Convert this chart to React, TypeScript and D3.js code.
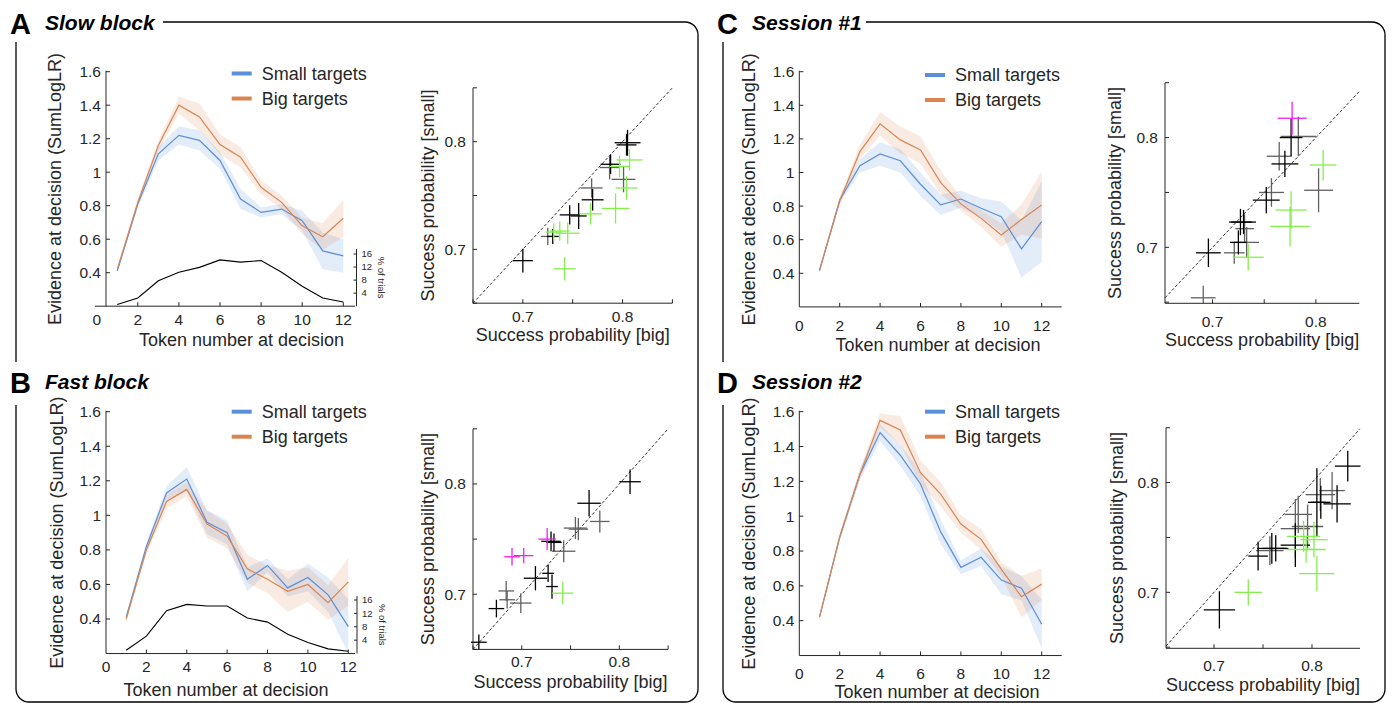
import React from "react";
import * as d3 from "d3";

// ---------- data ----------
const tokens = [1, 2, 3, 4, 5, 6, 7, 8, 9, 10, 11, 12];
const evidenceTicks = [0.4, 0.6, 0.8, 1, 1.2, 1.4, 1.6];
const tokenTicks = [0, 2, 4, 6, 8, 10, 12];
const trialTicks = [4, 8, 12, 16];
const probLabelTicks = [0.7, 0.8];
const probMarkTicks = [0.65, 0.7, 0.75, 0.8, 0.85];

// A: slow block
const slowSmall = [0.41, 0.81, 1.11, 1.22, 1.19, 1.07, 0.84, 0.76, 0.78, 0.71, 0.53, 0.5];
const slowSmallErr = [0.01, 0.02, 0.04, 0.055, 0.06, 0.05, 0.06, 0.03, 0.03, 0.06, 0.11, 0.1];
const slowBig = [0.42, 0.82, 1.16, 1.4, 1.33, 1.165, 1.09, 0.91, 0.82, 0.68, 0.615, 0.725];
const slowBigErr = [0.01, 0.02, 0.03, 0.05, 0.08, 0.06, 0.06, 0.04, 0.04, 0.05, 0.08, 0.11];
const slowTrials = [0.5, 2.5, 7.8, 10.4, 11.9, 14.2, 13.5, 14.0, 10.4, 6.1, 2.5, 1.3];

// B: fast block
const fastSmall = [0.41, 0.82, 1.13, 1.21, 0.96, 0.9, 0.63, 0.71, 0.58, 0.64, 0.54, 0.356];
const fastSmallErr = [0.01, 0.02, 0.04, 0.07, 0.07, 0.07, 0.07, 0.04, 0.05, 0.08, 0.1, 0.16];
const fastBig = [0.4, 0.8, 1.08, 1.15, 0.95, 0.88, 0.69, 0.63, 0.56, 0.6, 0.495, 0.615];
const fastBigErr = [0.02, 0.02, 0.04, 0.04, 0.08, 0.07, 0.08, 0.08, 0.12, 0.1, 0.1, 0.14];
const fastTrials = [1.0, 5.2, 12.8, 14.7, 14.2, 14.2, 10.6, 9.4, 5.8, 3.3, 1.4, 0.7];

// C: session 1
const s1Small = [0.415, 0.835, 1.04, 1.11, 1.07, 0.93, 0.807, 0.842, 0.787, 0.737, 0.545, 0.708];
const s1SmallErr = [0.01, 0.02, 0.04, 0.07, 0.07, 0.07, 0.06, 0.05, 0.06, 0.09, 0.17, 0.24];
const s1Big = [0.42, 0.83, 1.124, 1.29, 1.194, 1.134, 0.94, 0.813, 0.727, 0.628, 0.72, 0.807];
const s1BigErr = [0.01, 0.02, 0.04, 0.07, 0.08, 0.08, 0.07, 0.04, 0.05, 0.07, 0.09, 0.2];

// D: session 2
const s2Small = [0.42, 0.88, 1.24, 1.48, 1.35, 1.185, 0.91, 0.706, 0.764, 0.633, 0.586, 0.38];
const s2SmallErr = [0.01, 0.02, 0.03, 0.05, 0.06, 0.07, 0.07, 0.04, 0.05, 0.08, 0.07, 0.14];
const s2Big = [0.42, 0.88, 1.24, 1.55, 1.495, 1.25, 1.127, 0.955, 0.867, 0.695, 0.538, 0.61];
const s2BigErr = [0.01, 0.02, 0.03, 0.04, 0.08, 0.07, 0.07, 0.05, 0.06, 0.04, 0.12, 0.09];

// scatter: [big, small, bigErr, smallErr, kind]  k=black d=gray g=green m=magenta
type Pt = [number, number, number, number, string];
const slowScatter: Pt[] = [
  [0.725, 0.712, 0.007, 0.008, "d"],
  [0.769, 0.757, 0.011, 0.009, "d"],
  [0.787, 0.776, 0.01, 0.011, "d"],
  [0.801, 0.765, 0.012, 0.012, "d"],
  [0.7, 0.6895, 0.01, 0.011, "k"],
  [0.73, 0.712, 0.006, 0.007, "k"],
  [0.747, 0.732, 0.01, 0.009, "k"],
  [0.756, 0.731, 0.008, 0.012, "k"],
  [0.77, 0.746, 0.011, 0.01, "k"],
  [0.788, 0.779, 0.01, 0.009, "k"],
  [0.805, 0.799, 0.013, 0.012, "k"],
  [0.804, 0.797, 0.01, 0.01, "k"],
  [0.742, 0.682, 0.011, 0.011, "g"],
  [0.731, 0.716, 0.008, 0.008, "g"],
  [0.737, 0.717, 0.01, 0.009, "g"],
  [0.745, 0.715, 0.012, 0.01, "g"],
  [0.768, 0.733, 0.011, 0.01, "g"],
  [0.793, 0.738, 0.014, 0.014, "g"],
  [0.804, 0.757, 0.011, 0.011, "g"],
  [0.807, 0.783, 0.013, 0.01, "g"],
  [0.797, 0.777, 0.01, 0.01, "g"],
];
const fastScatter: Pt[] = [
  [0.684, 0.703, 0.008, 0.009, "d"],
  [0.685, 0.695, 0.008, 0.008, "d"],
  [0.699, 0.692, 0.011, 0.009, "d"],
  [0.743, 0.739, 0.012, 0.01, "d"],
  [0.755, 0.76, 0.012, 0.01, "d"],
  [0.758, 0.759, 0.01, 0.01, "d"],
  [0.78, 0.766, 0.01, 0.01, "d"],
  [0.656, 0.6565, 0.008, 0.007, "k"],
  [0.674, 0.687, 0.008, 0.008, "k"],
  [0.714, 0.7145, 0.012, 0.011, "k"],
  [0.727, 0.719, 0.006, 0.008, "k"],
  [0.731, 0.707, 0.006, 0.011, "k"],
  [0.73, 0.748, 0.01, 0.009, "k"],
  [0.733, 0.747, 0.008, 0.008, "k"],
  [0.769, 0.7825, 0.012, 0.012, "k"],
  [0.811, 0.802, 0.011, 0.011, "k"],
  [0.69, 0.734, 0.008, 0.008, "m"],
  [0.702, 0.735, 0.01, 0.007, "m"],
  [0.726, 0.75, 0.009, 0.01, "m"],
  [0.742, 0.701, 0.011, 0.01, "g"],
];
const s1Scatter: Pt[] = [
  [0.691, 0.654, 0.012, 0.011, "d"],
  [0.721, 0.695, 0.01, 0.01, "d"],
  [0.733, 0.7045, 0.012, 0.014, "d"],
  [0.731, 0.717, 0.009, 0.013, "d"],
  [0.757, 0.75, 0.012, 0.013, "d"],
  [0.7645, 0.783, 0.012, 0.013, "d"],
  [0.783, 0.801, 0.017, 0.018, "d"],
  [0.8026, 0.752, 0.014, 0.02, "d"],
  [0.696, 0.695, 0.012, 0.013, "k"],
  [0.725, 0.7045, 0.008, 0.011, "k"],
  [0.727, 0.723, 0.011, 0.012, "k"],
  [0.73, 0.723, 0.012, 0.011, "k"],
  [0.752, 0.743, 0.013, 0.012, "k"],
  [0.77, 0.776, 0.013, 0.012, "k"],
  [0.776, 0.8, 0.011, 0.017, "k"],
  [0.7345, 0.691, 0.015, 0.012, "g"],
  [0.807, 0.775, 0.013, 0.014, "g"],
  [0.776, 0.734, 0.015, 0.017, "g"],
  [0.775, 0.719, 0.019, 0.018, "g"],
  [0.777, 0.8176, 0.014, 0.015, "m"],
];
const s2Scatter: Pt[] = [
  [0.757, 0.738, 0.014, 0.013, "d"],
  [0.783, 0.758, 0.015, 0.027, "d"],
  [0.786, 0.771, 0.014, 0.017, "d"],
  [0.7955, 0.76, 0.016, 0.02, "d"],
  [0.8085, 0.789, 0.015, 0.015, "d"],
  [0.8205, 0.7927, 0.013, 0.017, "d"],
  [0.7055, 0.684, 0.016, 0.017, "k"],
  [0.745, 0.733, 0.01, 0.013, "k"],
  [0.759, 0.74, 0.015, 0.014, "k"],
  [0.763, 0.74, 0.013, 0.012, "k"],
  [0.783, 0.743, 0.015, 0.02, "k"],
  [0.805, 0.782, 0.009, 0.031, "k"],
  [0.809, 0.782, 0.01, 0.015, "k"],
  [0.8256, 0.7806, 0.014, 0.017, "k"],
  [0.8365, 0.815, 0.013, 0.014, "k"],
  [0.735, 0.7, 0.014, 0.012, "g"],
  [0.7915, 0.751, 0.017, 0.014, "g"],
  [0.802, 0.748, 0.014, 0.016, "g"],
  [0.794, 0.739, 0.02, 0.012, "g"],
  [0.805, 0.717, 0.018, 0.016, "g"],
];

// ---------- styles ----------
const FONT = "'Liberation Sans', Arial, Helvetica, sans-serif";
const HEAD = "'Liberation Sans Narrow', 'Liberation Sans', Arial, sans-serif";
const AX = "#262626";
const BLUE = "#5b8fd9";
const ORANGE = "#da8551";
const KIND: Record<string, string> = { k: "#000000", d: "#606060", g: "#84f04c", m: "#f021f0" };

type LCfg = {
  x0: number; x12: number; xAxisFrom: number; xAxisTo: number; yAxisX: number;
  y04: number; y16: number; tickDy: number; xLabelY: number; xLabelX: number; yLabelX: number;
  legX: number; legY: number; pAxisX?: number; p16?: number; pTop?: number;
};

function LineChart({ c, small, smallErr, big, bigErr, trials }: any) {
  const cfg = c as LCfg;
  const x = d3.scaleLinear().domain([0, 12]).range([cfg.x0, cfg.x12]);
  const y = d3.scaleLinear().domain([0.4, 1.6]).range([cfg.y04, cfg.y16]);
  const yB = y(0.2);
  const line = d3.line<number>().x((_, i) => x(tokens[i])).y((d) => y(d));
  const band = (m: number[], e: number[]) =>
    d3.area<number>()
      .x((_, i) => x(tokens[i]))
      .y0((_, i) => y(Math.max(0.2, m[i] - e[i])))
      .y1((_, i) => y(m[i] + e[i]))(m) || "";
  const yMid = (y(1.6) + yB) / 2;
  let trialEls: any = null;
  if (trials && cfg.pAxisX) {
    const p = d3.scaleLinear().domain([0, 16]).range([yB, cfg.p16!]);
    const tl = d3.line<number>().x((_, i) => x(tokens[i])).y((d) => p(d));
    trialEls = (
      <g>
        <path d={tl(trials) || ""} fill="none" stroke="#000" strokeWidth={1.1} />
        <line x1={cfg.pAxisX} x2={cfg.pAxisX} y1={yB} y2={cfg.pTop} stroke={AX} strokeWidth={1} />
        {trialTicks.map((t) => (
          <g key={t}>
            <line x1={cfg.pAxisX! - 3} x2={cfg.pAxisX} y1={p(t)} y2={p(t)} stroke={AX} />
            <text x={cfg.pAxisX! + 5} y={p(t)} dy="0.35em" fontSize={9.5} fill={AX} fontFamily={FONT}>{t}</text>
          </g>
        ))}
        <text transform={`translate(${cfg.pAxisX! + 25},${(yB + cfg.pTop!) / 2}) rotate(90)`} textAnchor="middle" dy="0.35em" fontSize={9.5} fill={AX} fontFamily={FONT}>% of trials</text>
      </g>
    );
  }
  return (
    <g fontFamily={FONT}>
      <path d={band(small, smallErr)} fill={BLUE} fillOpacity={0.17} />
      <path d={band(big, bigErr)} fill={ORANGE} fillOpacity={0.17} />
      <path d={line(small) || ""} fill="none" stroke={BLUE} strokeWidth={1.2} />
      <path d={line(big) || ""} fill="none" stroke={ORANGE} strokeWidth={1.2} />
      {trialEls}
      <line x1={cfg.yAxisX} x2={cfg.yAxisX} y1={yB} y2={y(1.6) - 1} stroke={AX} strokeWidth={1} />
      <line x1={cfg.xAxisFrom} x2={cfg.xAxisTo} y1={yB} y2={yB} stroke={AX} strokeWidth={1} />
      {evidenceTicks.map((t) => (
        <g key={t}>
          <line x1={cfg.yAxisX} x2={cfg.yAxisX + 4} y1={y(t)} y2={y(t)} stroke={AX} />
          <text x={cfg.yAxisX - 5} y={y(t)} dy="0.35em" textAnchor="end" fontSize={15.5} fill={AX}>{t}</text>
        </g>
      ))}
      {tokenTicks.map((t) => (
        <g key={t}>
          {t > 0 && <line x1={x(t)} x2={x(t)} y1={yB} y2={yB - 4} stroke={AX} />}
          <text x={x(t)} y={yB + cfg.tickDy} dy="0.35em" textAnchor="middle" fontSize={15.5} fill={AX}>{t}</text>
        </g>
      ))}
      <text x={cfg.xLabelX} y={cfg.xLabelY} dy="0.35em" textAnchor="middle" fontSize={18} fill={AX}>Token number at decision</text>
      <text transform={`translate(${cfg.yLabelX},${yMid}) rotate(-90)`} textAnchor="middle" dy="0.35em" fontSize={18} fill={AX}>Evidence at decision (SumLogLR)</text>
      <line x1={cfg.legX} x2={cfg.legX + 20} y1={cfg.legY} y2={cfg.legY} stroke={BLUE} strokeWidth={4} />
      <text x={cfg.legX + 30} y={cfg.legY} dy="0.35em" fontSize={18} fill={AX}>Small targets</text>
      <line x1={cfg.legX} x2={cfg.legX + 20} y1={cfg.legY + 25} y2={cfg.legY + 25} stroke={ORANGE} strokeWidth={4} />
      <text x={cfg.legX + 30} y={cfg.legY + 25} dy="0.35em" fontSize={18} fill={AX}>Big targets</text>
    </g>
  );
}

type SCfg = { xd: [number, number]; yd: [number, number]; xr: [number, number]; yr: [number, number]; tickDy: number; yLabelX: number; xLabelY: number };

function Scatter({ c, pts }: { c: SCfg; pts: Pt[] }) {
  const x = d3.scaleLinear().domain(c.xd).range(c.xr);
  const y = d3.scaleLinear().domain(c.yd).range(c.yr);
  const [x0, x1] = c.xr;
  const [y0, y1] = c.yr;
  const dLo = Math.max(c.xd[0], c.yd[0]);
  const dHi = Math.min(c.xd[1], c.yd[1]);
  return (
    <g fontFamily={FONT}>
      <line x1={x(dLo)} y1={y(dLo)} x2={x(dHi)} y2={y(dHi)} stroke="#333" strokeWidth={1} strokeDasharray="3,2" />
      {pts.map((p, i) => (
        <g key={i} stroke={KIND[p[4]]} strokeWidth={1.3}>
          <line x1={x(p[0] - p[2])} x2={x(p[0] + p[2])} y1={y(p[1])} y2={y(p[1])} />
          <line x1={x(p[0])} x2={x(p[0])} y1={Math.min(y0, y(p[1] - p[3]))} y2={y(p[1] + p[3])} />
        </g>
      ))}
      <line x1={x0} x2={x0} y1={y0} y2={y1} stroke={AX} strokeWidth={1} />
      <line x1={x0} x2={x1} y1={y0} y2={y0} stroke={AX} strokeWidth={1} />
      {probMarkTicks.filter((t) => y(t) >= y1 - 0.5 && y(t) <= y0 + 0.5).map((t) => (
        <line key={"y" + t} x1={x0} x2={x0 + 4} y1={y(t)} y2={y(t)} stroke={AX} />
      ))}
      {probMarkTicks.filter((t) => x(t) >= x0 - 0.5 && x(t) <= x1 + 0.5).map((t) => (
        <line key={"x" + t} x1={x(t)} x2={x(t)} y1={y0} y2={y0 - 4} stroke={AX} />
      ))}
      {probLabelTicks.map((t) => (
        <g key={t}>
          <text x={x0 - 7} y={y(t)} dy="0.35em" textAnchor="end" fontSize={15.5} fill={AX}>{t.toFixed(1)}</text>
          <text x={x(t)} y={y0 + c.tickDy} dy="0.35em" textAnchor="middle" fontSize={15.5} fill={AX}>{t.toFixed(1)}</text>
        </g>
      ))}
      <text x={(x0 + x1) / 2} y={c.xLabelY} dy="0.35em" textAnchor="middle" fontSize={18} fill={AX}>Success probability [big]</text>
      <text transform={`translate(${c.yLabelX},${(y0 + y1) / 2}) rotate(-90)`} dy="0.35em" textAnchor="middle" fontSize={18} fill={AX}>Success probability [small]</text>
    </g>
  );
}

const lineA: LCfg = { x0: 96.7, x12: 343.3, xAxisFrom: 95, xAxisTo: 355, yAxisX: 106, y04: 272.7, y16: 71.7, tickDy: 13, xLabelY: 339.5, xLabelX: 241.5, yLabelX: 55, legX: 231.7, legY: 73.5, pAxisX: 356.5, p16: 254, pTop: 249 };
const lineB: LCfg = { x0: 106, x12: 348.3, xAxisFrom: 106, xAxisTo: 355, yAxisX: 106, y04: 619, y16: 411.7, tickDy: 13.5, xLabelY: 690, xLabelX: 226, yLabelX: 56.5, legX: 231.7, legY: 411.7, pAxisX: 357, p16: 600, pTop: 596 };
const lineC: LCfg = { x0: 799.3, x12: 1041.7, xAxisFrom: 799.3, xAxisTo: 1061.7, yAxisX: 799.3, y04: 273.3, y16: 71.7, tickDy: 19, xLabelY: 345, xLabelX: 938, yLabelX: 748.3, legX: 925, legY: 75 };
const lineD: LCfg = { x0: 799.3, x12: 1041.7, xAxisFrom: 799.3, xAxisTo: 1061.7, yAxisX: 799.3, y04: 620.7, y16: 411.7, tickDy: 18, xLabelY: 691.5, xLabelX: 937, yLabelX: 748.3, legX: 925, legY: 411.7 };

const scA: SCfg = { xd: [0.65, 0.85], yd: [0.65, 0.85], xr: [473, 672.4], yr: [303.2, 87.8], tickDy: 13.5, yLabelX: 427.3, xLabelY: 335 };
const scB: SCfg = { xd: [0.65, 0.85], yd: [0.65, 0.85], xr: [473, 668.1], yr: [649.4, 428.8], tickDy: 12.5, yLabelX: 427.3, xLabelY: 681.7 };
const scC: SCfg = { xd: [0.654, 0.842], yd: [0.649, 0.85], xr: [1165, 1359.3], yr: [303.3, 82.7], tickDy: 18, yLabelX: 1115, xLabelY: 340 };
const scD: SCfg = { xd: [0.651, 0.849], yd: [0.649, 0.85], xr: [1166, 1360], yr: [648.3, 427.7], tickDy: 17, yLabelX: 1117, xLabelY: 685 };

function Header({ x, y, letter, title }: { x: number; y: number; letter: string; title: string }) {
  return (
    <g fontFamily={HEAD} fill="#000">
      <text x={x} y={y} fontSize={29} fontWeight="bold">{letter}</text>
      <text x={x + 35} y={y - 4} fontSize={21} fontWeight="bold" fontStyle="italic">{title}</text>
    </g>
  );
}

export default function App() {
  const r = 13;
  return (
    <svg width={1393} height={703} style={{ position: "absolute", left: 0, top: 0, background: "#fff" }}>
      <rect width={1393} height={703} fill="#fff" />
      <g fill="none" stroke="#000" strokeWidth={1.3}>
        <path d={`M163,22 H${698 - r} A${r},${r} 0 0 1 698,${22 + r} V${702 - r} A${r},${r} 0 0 1 ${698 - r},702 H${16 + r} A${r},${r} 0 0 1 16,${702 - r} V405`} />
        <path d="M16,362 V42" />
        <path d={`M866,22 H${1385 - r} A${r},${r} 0 0 1 1385,${22 + r} V${702 - r} A${r},${r} 0 0 1 ${1385 - r},702 H${723 + r} A${r},${r} 0 0 1 723,${702 - r} V405`} />
        <path d="M723,362 V42" />
      </g>
      <Header x={10} y={34} letter="A" title="Slow block" />
      <Header x={10} y={393} letter="B" title="Fast block" />
      <Header x={717} y={34} letter="C" title="Session #1" />
      <Header x={717} y={393} letter="D" title="Session #2" />

      <LineChart c={lineA} small={slowSmall} smallErr={slowSmallErr} big={slowBig} bigErr={slowBigErr} trials={slowTrials} />
      <LineChart c={lineB} small={fastSmall} smallErr={fastSmallErr} big={fastBig} bigErr={fastBigErr} trials={fastTrials} />
      <LineChart c={lineC} small={s1Small} smallErr={s1SmallErr} big={s1Big} bigErr={s1BigErr} />
      <LineChart c={lineD} small={s2Small} smallErr={s2SmallErr} big={s2Big} bigErr={s2BigErr} />

      <Scatter c={scA} pts={slowScatter} />
      <Scatter c={scB} pts={fastScatter} />
      <Scatter c={scC} pts={s1Scatter} />
      <Scatter c={scD} pts={s2Scatter} />
    </svg>
  );
}
